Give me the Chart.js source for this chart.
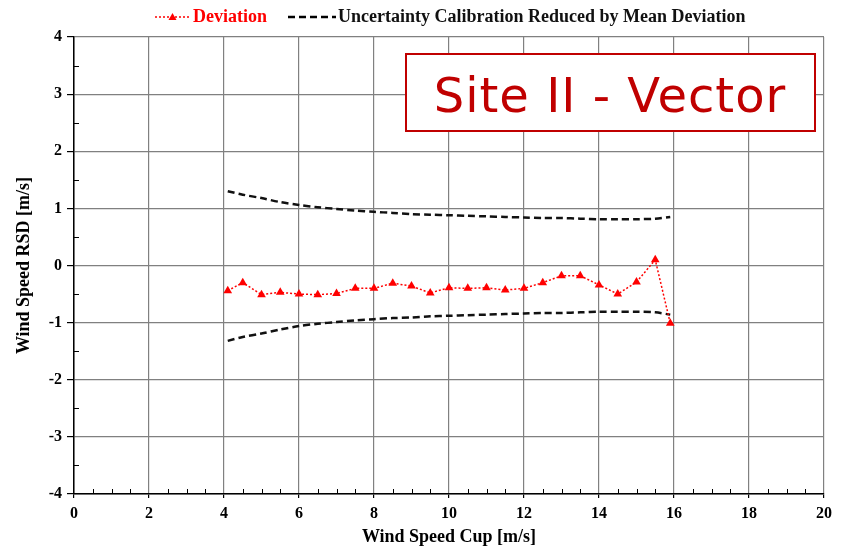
<!DOCTYPE html>
<html>
<head>
<meta charset="utf-8">
<script src="https://cdn.jsdelivr.net/npm/chart.js@4.4.0/dist/chart.umd.min.js"></script>
<style>
  html, body { margin: 0; padding: 0; background: #fff; }
  #wrap { width: 854px; height: 548px; position: relative; }
</style>
</head>
<body>
<div id="wrap"><canvas id="chart"></canvas></div>
<script>
// wind speed bins [m/s]
const windSpeed = [4.1, 4.5, 5, 5.5, 6, 6.5, 7, 7.5, 8, 8.5, 9, 9.5, 10, 10.5, 11, 11.5, 12, 12.5, 13, 13.5, 14, 14.5, 15, 15.5, 15.9];
const deviation = [-0.44, -0.30, -0.51, -0.47, -0.50, -0.51, -0.49, -0.40, -0.40, -0.31, -0.36, -0.48, -0.39, -0.40, -0.39, -0.43, -0.40, -0.30, -0.18, -0.18, -0.34, -0.50, -0.29, 0.10, -1.01];
const uncUpper = [1.30, 1.24, 1.18, 1.11, 1.06, 1.02, 0.99, 0.96, 0.94, 0.92, 0.90, 0.89, 0.88, 0.87, 0.86, 0.85, 0.84, 0.83, 0.83, 0.82, 0.81, 0.81, 0.81, 0.82, 0.85];
const uncLower = [-1.32, -1.25, -1.19, -1.12, -1.06, -1.02, -0.99, -0.96, -0.94, -0.92, -0.91, -0.89, -0.88, -0.87, -0.86, -0.85, -0.84, -0.83, -0.83, -0.82, -0.81, -0.81, -0.81, -0.82, -0.86];

const serif = '"Liberation Serif", "Times New Roman", serif';
const red = '#ff0000';

function pts(ys) {
    return windSpeed.map((x, i) => ({ x: x, y: ys[i] }));
}

// legend on top, drawn by hand to get line samples
const topLegend = {
    id: 'topLegend',
    afterDraw(chart) {
        const ctx = chart.ctx;
        ctx.save();
        const y = 17;
        // deviation sample
        ctx.strokeStyle = red;
        ctx.lineWidth = 1.5;
        ctx.setLineDash([2, 2]);
        ctx.beginPath(); ctx.moveTo(155, y); ctx.lineTo(190, y); ctx.stroke();
        ctx.setLineDash([]);
        ctx.fillStyle = red;
        ctx.beginPath(); ctx.moveTo(172.5, y - 4); ctx.lineTo(176.5, y + 3); ctx.lineTo(168.5, y + 3); ctx.closePath(); ctx.fill();
        ctx.font = 'bold 18px ' + serif;
        ctx.textBaseline = 'middle';
        ctx.fillText('Deviation', 193, y);
        // uncertainty sample
        ctx.strokeStyle = '#000';
        ctx.lineWidth = 2.5;
        ctx.setLineDash([7, 4]);
        ctx.beginPath(); ctx.moveTo(288, y); ctx.lineTo(336, y); ctx.stroke();
        ctx.setLineDash([]);
        ctx.fillStyle = '#111';
        ctx.fillText('Uncertainty Calibration Reduced by Mean Deviation', 338, y);
        ctx.restore();
    }
};

// minor ticks every 0.5 on both axes, plus the site label box
const extras = {
    id: 'extras',
    afterDraw(chart) {
        const ctx = chart.ctx;
        const xs = chart.scales.x, ys = chart.scales.y;
        const a = chart.chartArea;
        ctx.save();
        ctx.strokeStyle = '#000';
        ctx.lineWidth = 1;
        for (let v = 0.5; v < 20; v += 0.5) {
            if (v % 2 === 0) continue;
            const px = Math.round(xs.getPixelForValue(v)) + 0.5;
            ctx.beginPath(); ctx.moveTo(px, a.bottom); ctx.lineTo(px, a.bottom - 5); ctx.stroke();
        }
        for (let v = -3.5; v < 4; v += 1) {
            const py = Math.round(ys.getPixelForValue(v)) + 0.5;
            ctx.beginPath(); ctx.moveTo(a.left, py); ctx.lineTo(a.left + 5, py); ctx.stroke();
        }
        // site label
        ctx.fillStyle = '#fff';
        ctx.fillRect(406, 54, 409, 77);
        ctx.strokeStyle = '#c00000';
        ctx.lineWidth = 2;
        ctx.strokeRect(406, 54, 409, 77);
        ctx.fillStyle = '#c00000';
        ctx.font = '48px "DejaVu Sans", Verdana, sans-serif';
        ctx.letterSpacing = '1px';
        ctx.textAlign = 'center';
        ctx.textBaseline = 'alphabetic';
        ctx.fillText('Site II - Vector', 610, 112);
        ctx.restore();
    }
};

new Chart(document.getElementById('chart'), {
    type: 'scatter',
    data: {
        datasets: [
            {
                label: 'Deviation',
                data: pts(deviation),
                showLine: true,
                borderColor: red,
                backgroundColor: red,
                borderWidth: 1.5,
                borderDash: [2, 2],
                pointStyle: 'triangle',
                pointRadius: 5,
                pointBorderWidth: 0,
                order: 0
            },
            {
                label: 'Uncertainty Calibration Reduced by Mean Deviation',
                data: pts(uncUpper),
                showLine: true,
                borderColor: '#111',
                borderWidth: 2.5,
                borderDash: [7, 4],
                pointRadius: 0,
                tension: 0.3,
                order: 1
            },
            {
                label: 'Uncertainty lower',
                data: pts(uncLower),
                showLine: true,
                borderColor: '#111',
                borderWidth: 2.5,
                borderDash: [7, 4],
                pointRadius: 0,
                tension: 0.3,
                order: 1
            }
        ]
    },
    options: {
        responsive: true,
        maintainAspectRatio: false,
        animation: false,
        layout: { padding: { top: 37, right: 30, left: 0, bottom: 0 } },
        plugins: {
            legend: { display: false },
            tooltip: { enabled: false }
        },
        scales: {
            x: {
                type: 'linear',
                min: 0, max: 20,
                afterFit(s) { s.height = 54; },
                ticks: { stepSize: 2, color: '#000', padding: 6, font: { family: serif, size: 16, weight: 'bold' } },
                grid: { color: '#808080', lineWidth: 1.2, tickLength: 4, tickColor: '#000' },
                border: { color: '#000', width: 1.5 },
                title: { display: true, text: 'Wind Speed Cup [m/s]', color: '#000', padding: { top: -5, bottom: 0 }, font: { family: serif, size: 18, weight: 'bold' } }
            },
            y: {
                min: -4, max: 4,
                afterFit(s) { s.width = 74; },
                ticks: { stepSize: 1, color: '#000', padding: 5, font: { family: serif, size: 16, weight: 'bold' } },
                grid: { color: '#808080', lineWidth: 1.2, tickLength: 7, tickColor: '#000' },
                border: { color: '#000', width: 1.5 },
                title: { display: true, text: 'Wind Speed RSD [m/s]', color: '#000', padding: { top: 14, bottom: 0 }, font: { family: serif, size: 18, weight: 'bold' } }
            }
        }
    },
    plugins: [topLegend, extras]
});
</script>
</body>
</html>
